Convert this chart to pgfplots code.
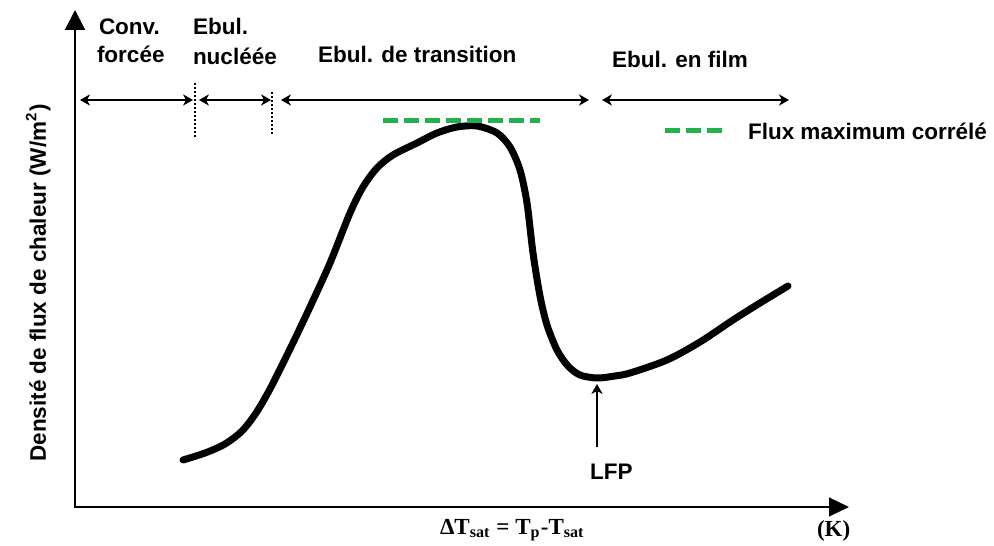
\documentclass[border=0pt]{standalone}
\usepackage{fontspec}
\setmainfont{Liberation Sans}
\newfontfamily\serifb{Liberation Serif}
\usepackage{pgfplots}
\pgfplotsset{compat=1.18}
\usetikzlibrary{arrows.meta}
\definecolor{corrgreen}{RGB}{34,177,76}
\tikzset{
  lab/.style={font=\fontsize{9}{10.8}\selectfont\bfseries, inner sep=0pt, outer sep=0pt},
  labs/.style={font=\fontsize{9.2}{11}\selectfont\serifb\bfseries, inner sep=0pt, outer sep=0pt},
  reg/.style={line width=0.55pt, {Stealth[length=4pt,width=4.5pt,inset=1.2pt]}-{Stealth[length=4pt,width=4.5pt,inset=1.2pt]}},
}
\begin{document}
\begin{tikzpicture}
\begin{axis}[
  x=0.4pt, y=0.4pt,
  xmin=0, xmax=994, ymin=0, ymax=546,
  hide axis, clip=false,
]
% bounding frame (invisible)
\path (axis cs:0,0) rectangle (axis cs:994,546);
% axes
\draw[line width=0.8pt, -{Triangle[length=8pt,width=8pt]}] (axis cs:75,39) -- (axis cs:75,536);
\draw[line width=0.8pt, -{Triangle[length=8pt,width=7.5pt]}] (axis cs:74,39) -- (axis cs:849,39);
% boiling curve
\addplot[black, line width=2.8pt, smooth, tension=0.5, line cap=round] coordinates {
(183,86) (205,93) (225,102) (242,115) (256,133) (270,157) (290,197) (310,239) (330,283)
(350,333) (363,359) (377,378) (393,391) (417,403) (437,413) (457,419) (477,420)
(497,413) (510,399) (520,376) (527,343) (533,293) (540,250) (547,221) (557,196)
(568,180) (580,171) (597,168) (615,170) (630,173) (667,186) (700,204) (733,226)
(760,243) (788,260)
};
% correlated maximum flux
\addplot[corrgreen, line width=2pt, dash pattern=on 6pt off 2.4pt] coordinates {(383,425) (540,425)};
% legend sample
\draw[corrgreen, line width=2pt, dash pattern=on 6pt off 2.4pt] (axis cs:665,415) -- (axis cs:725,415);
\node[lab, anchor=base west] at (axis cs:748,406) {Flux maximum corrélé};
% region arrows
\draw[reg] (axis cs:80,446) -- (axis cs:193,446);
\draw[reg] (axis cs:199,446) -- (axis cs:271,446);
\draw[reg] (axis cs:281,446) -- (axis cs:589,446);
\draw[reg] (axis cs:602,446) -- (axis cs:789,446);
\draw[line width=0.45pt, dash pattern=on 0.7pt off 0.9pt] (axis cs:195,463) -- (axis cs:195,408);
\draw[line width=0.45pt, dash pattern=on 0.7pt off 0.9pt] (axis cs:272,454) -- (axis cs:272,411);
% region labels
\node[lab, anchor=base west] at (axis cs:99,511) {Conv.};
\node[lab, anchor=base west] at (axis cs:97,483) {forcée};
\node[lab, anchor=base west] at (axis cs:193,511) {Ebul.};
\node[lab, anchor=base west] at (axis cs:193,481) {nucléée};
\node[lab, anchor=base west] at (axis cs:318,483) {Ebul. de transition};
\node[lab, anchor=base west] at (axis cs:612,478) {Ebul. en film};
% LFP
\draw[line width=0.5pt, -{Stealth[length=4pt,width=4.5pt,inset=1.2pt]}] (axis cs:597,99) -- (axis cs:597,162);
\node[lab, anchor=base west] at (axis cs:590,66) {LFP};
% axis labels
\node[lab, anchor=base, rotate=90] at (axis cs:46,263) {Densité de flux de chaleur (W/m\textsuperscript{2})};
\node[labs, anchor=base west] at (axis cs:440,11) {ΔT\textsubscript{sat} = T\textsubscript{p}-T\textsubscript{sat}};
\node[labs, anchor=base west] at (axis cs:817,9) {(K)};
\end{axis}
\end{tikzpicture}
\end{document}
